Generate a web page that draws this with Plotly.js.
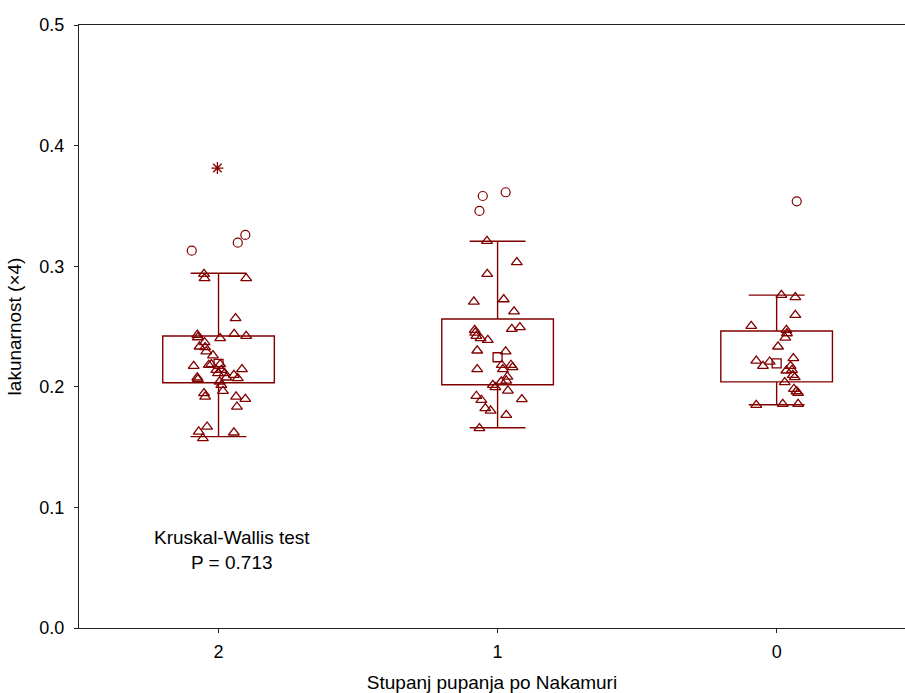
<!DOCTYPE html>
<html>
<head>
<meta charset="utf-8">
<script src="https://cdn.plot.ly/plotly-3.0.1.min.js"></script>
<style>
html,body{margin:0;padding:0;background:#fff;}
#chart{width:905px;height:693px;}
</style>
</head>
<body>
<div id="chart"></div>
<script>
// Categories (Nakamuri budding grade)
const categories = ['2', '1', '0'];

// Box statistics per category
const medians  = [0.2190, 0.2245, 0.2195];
const q1       = [0.2033, 0.2017, 0.2041];
const q3       = [0.2421, 0.2562, 0.2463];
const whiskLo  = [0.1587, 0.1661, 0.1851];
const whiskHi  = [0.2942, 0.3207, 0.2760];

// Raw values (triangles) and jitter offsets per category
const raw2 = [0.2935,0.2900,0.2900,0.2568,0.2438,0.2421,0.2430,0.2410,0.2402,0.2369,0.2333,0.2328,0.2293,0.2260,0.2181,0.2172,0.2187,0.2187,0.2145,0.2139,0.2139,0.2112,0.2112,0.2098,0.2076,0.2071,0.2076,0.2062,0.2043,0.2015,0.1965,0.1946,0.1918,0.1918,0.1899,0.1835,0.1669,0.1628,0.1620,0.1573];
const jit2 = [-0.052,-0.050,0.099,0.061,0.056,0.099,-0.076,-0.074,0.006,-0.050,-0.068,-0.048,-0.044,-0.020,-0.035,-0.089,-0.026,0.006,0.084,-0.008,0.010,0.022,-0.002,0.055,0.028,0.069,-0.076,-0.074,0.004,0.010,0.016,-0.052,-0.048,0.063,0.096,0.066,-0.041,-0.071,0.055,-0.056];

const raw1 = [0.3209,0.3032,0.2935,0.2706,0.2725,0.2624,0.2479,0.2493,0.2471,0.2449,0.2421,0.2402,0.2388,0.2300,0.2292,0.2145,0.2181,0.2181,0.2162,0.2145,0.2084,0.2051,0.2043,0.2015,0.1996,0.1968,0.1924,0.1896,0.1891,0.1822,0.1802,0.1766,0.1656];
const jit1 = [-0.038,0.069,-0.037,-0.085,0.022,0.059,0.051,0.080,-0.082,-0.080,-0.076,-0.061,-0.035,-0.073,0.029,-0.073,0.015,0.048,0.054,0.019,0.035,0.031,0.013,-0.017,-0.008,0.037,-0.076,0.087,-0.058,-0.044,-0.025,0.031,-0.065];

const raw0 = [0.2761,0.2742,0.2595,0.2504,0.2471,0.2443,0.2407,0.2333,0.2236,0.2216,0.2208,0.2172,0.2172,0.2134,0.2139,0.2098,0.2079,0.2037,0.1982,0.1962,0.1948,0.1849,0.1857,0.1857];
const jit0 = [0.017,0.067,0.067,-0.091,0.035,0.037,0.031,0.005,0.060,-0.073,-0.025,-0.049,0.050,0.035,0.055,0.058,0.065,0.029,0.062,0.071,0.077,-0.073,0.022,0.077];

// Outliers (circles) and extremes (stars)
const outVal = [0.3129,0.3195,0.3259,0.3582,0.3613,0.3458,0.3538];
const outGrp = [0,0,0,1,1,1,2];
const outJit = [-0.096,0.069,0.096,-0.053,0.029,-0.065,0.072];
const extVal = [0.3814];
const extGrp = [0];
const extJit = [-0.004];

const yTicks = [0.0,0.1,0.2,0.3,0.4,0.5];

const col = '#800000';
const boxW = 0.4, capW = 0.2;

const rawX = [];
const rawY = [];
[[raw2,jit2],[raw1,jit1],[raw0,jit0]].forEach(([v,j],g)=>{
  v.forEach((val,i)=>{ rawX.push(g + j[i]); rawY.push(val); });
});

const traces = [
  {
    type:'scatter', mode:'markers',
    x: rawX, y: rawY,
    marker:{symbol:'triangle-up-open', size:9.5, color:col, line:{width:1.3, color:col}},
    hoverinfo:'y', showlegend:false
  },
  {
    type:'scatter', mode:'markers',
    x: categories.map((c,i)=>i), y: medians,
    marker:{symbol:'square-open', size:9, color:col, line:{width:1.3, color:col}},
    showlegend:false
  },
  {
    type:'scatter', mode:'markers',
    x: outVal.map((v,i)=>outGrp[i]+outJit[i]), y: outVal,
    marker:{symbol:'circle-open', size:9, color:col, line:{width:1.2, color:col}},
    showlegend:false
  },
  {
    type:'scatter', mode:'markers',
    x: extVal.map((v,i)=>extGrp[i]+extJit[i]), y: extVal,
    marker:{symbol:'asterisk-open', size:10, color:col, line:{width:1.3, color:col}},
    showlegend:false
  }
];

const shapes = [];
categories.forEach((c,i)=>{
  const ln = {color:col, width:1.4};
  shapes.push({type:'rect', xref:'x', yref:'y', x0:i-boxW/2, x1:i+boxW/2, y0:q1[i], y1:q3[i], line:ln, layer:'below'});
  shapes.push({type:'line', xref:'x', yref:'y', x0:i, x1:i, y0:q3[i], y1:whiskHi[i], line:ln, layer:'below'});
  shapes.push({type:'line', xref:'x', yref:'y', x0:i, x1:i, y0:q1[i], y1:whiskLo[i], line:ln, layer:'below'});
  shapes.push({type:'line', xref:'x', yref:'y', x0:i-capW/2, x1:i+capW/2, y0:whiskHi[i], y1:whiskHi[i], line:ln, layer:'below'});
  shapes.push({type:'line', xref:'x', yref:'y', x0:i-capW/2, x1:i+capW/2, y0:whiskLo[i], y1:whiskLo[i], line:ln, layer:'below'});
});

const fam = '"Liberation Sans", Arial, sans-serif';
const tickFont = {family:fam, size:18, color:'#000'};
const textFont = {family:fam, size:19, color:'#000'};

const layout = {
  width:905, height:693,
  margin:{l:79, r:0, t:25, b:65, pad:0},
  paper_bgcolor:'#fff', plot_bgcolor:'#fff',
  font: textFont,
  showlegend:false,
  xaxis:{
    range:[-0.5, 2.46],
    tickmode:'array', tickvals:categories.map((c,i)=>i), ticktext:categories,
    showgrid:false, zeroline:false,
    showline:true, linecolor:'#222', linewidth:1, mirror:true,
    ticks:'outside', ticklen:4, tickcolor:'#222',
    tickfont:tickFont, ticklabelstandoff:3,
    title:{text:'Stupanj pupanja po Nakamuri', font:textFont, standoff:16}
  },
  yaxis:{
    range:[0, 0.5],
    tickmode:'array', tickvals:yTicks, ticktext:yTicks.map(v=>v.toFixed(1)),
    showgrid:false, zeroline:false,
    showline:true, linecolor:'#222', linewidth:1,
    ticks:'outside', ticklen:4, tickcolor:'#222',
    tickfont:tickFont, ticklabelstandoff:6,
    title:{text:'lakunarnost (×4)', font:textFont, standoff:12}
  },
  shapes: shapes,
  annotations:[{
    xref:'x', yref:'y', x:0.047, y:0.065,
    text:'Kruskal-Wallis test<br>P = 0.713',
    showarrow:false, font:textFont, align:'center'
  }]
};

Plotly.newPlot('chart', traces, layout, {displayModeBar:false, staticPlot:true});
</script>
</body>
</html>
